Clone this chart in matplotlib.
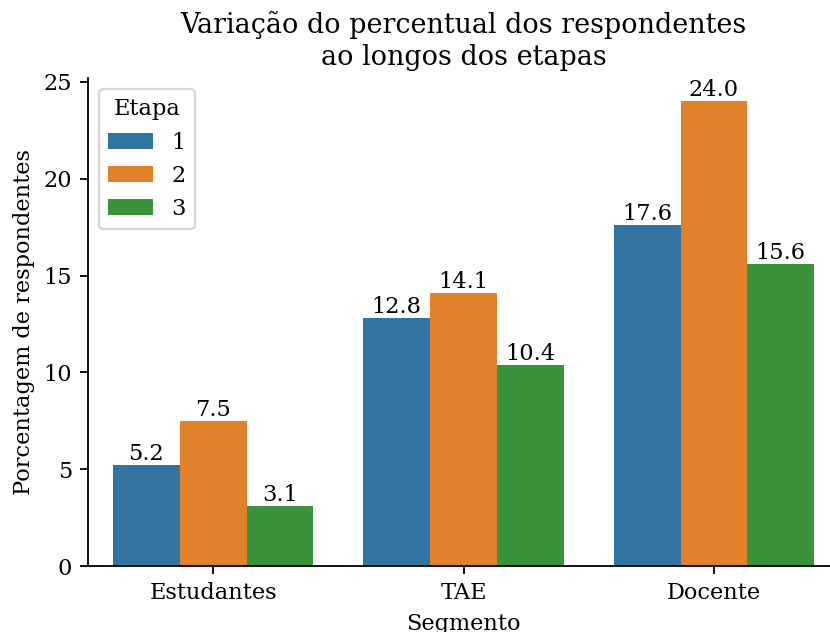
import matplotlib
matplotlib.use('Agg')
import matplotlib.pyplot as plt
import pandas as pd
import seaborn as sns

# Chart data
segmentos = ['Estudantes', 'TAE', 'Docente']
etapas = ['1', '2', '3']
etapa_1 = [5.2, 12.8, 17.6]
etapa_2 = [7.5, 14.1, 24.0]
etapa_3 = [3.1, 10.4, 15.6]


def main():
    # Long format table for seaborn
    rows = []
    for etapa, valores in zip(etapas, [etapa_1, etapa_2, etapa_3]):
        for seg, v in zip(segmentos, valores):
            rows.append({'Segmento': seg, 'Etapa': etapa, 'pct': v})
    df = pd.DataFrame(rows)

    plt.rcParams['font.family'] = 'DejaVu Serif'

    # Render at a higher dpi so default sizes scale up like the original
    dpi = 162
    fig = plt.figure(figsize=(830 / dpi, 632 / dpi), dpi=dpi)
    ax = fig.add_axes([0.106, 0.1044, 0.905, 0.772])

    sns.barplot(data=df, x='Segmento', y='pct', hue='Etapa', ax=ax,
                linewidth=0)

    for cont in ax.containers:
        ax.bar_label(cont, fmt='%.1f')

    ax.set_title('Variação do percentual dos respondentes\nao longos dos etapas')
    ax.set_ylabel('Porcentagem de respondentes')
    ax.set_xlabel('Segmento')
    ax.legend(title='Etapa', loc='upper left')
    sns.despine(ax=ax)

    fig.savefig('out.png', dpi=dpi)


if __name__ == '__main__':
    main()
